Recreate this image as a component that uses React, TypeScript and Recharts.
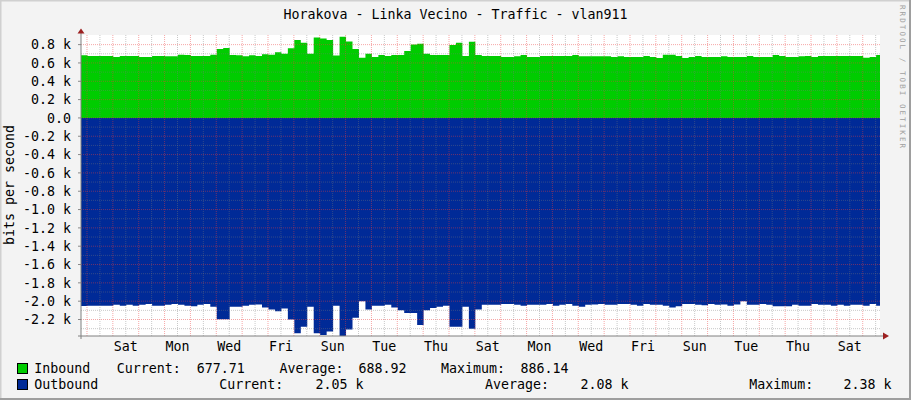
import React from "react";
import { ComposedChart, Area, XAxis, YAxis, ReferenceLine, CartesianGrid } from "recharts";

// one sample every 6 hours (0.25 day), bits per second
const STEP_DAYS = 0.25;
const END_DAY = 30.9;
const FIRST_MIDNIGHT = 0.232;

const inbound = [
  685, 677, 677, 677, 677, 665, 677, 677, 677, 665,
  665, 677, 677, 672, 672, 690, 688, 677, 677, 677,
  690, 753, 764, 688, 684, 672, 684, 677, 695, 690,
  717, 700, 760, 850, 820, 700, 877, 866, 850, 680,
  886, 833, 753, 658, 700, 665, 688, 677, 688, 688,
  730, 800, 810, 700, 688, 688, 688, 797, 820, 677,
  830, 688, 677, 677, 677, 665, 665, 672, 688, 665,
  665, 677, 677, 677, 677, 677, 688, 672, 672, 672,
  672, 672, 665, 672, 665, 665, 665, 677, 665, 655,
  690, 690, 677, 655, 665, 677, 665, 665, 665, 672,
  665, 665, 665, 677, 665, 665, 665, 688, 677, 665,
  665, 672, 677, 665, 677, 677, 677, 677, 677, 677,
  677, 658, 665, 688,
];

const outbound = [
  2052, 2050, 2050, 2050, 2050, 2040, 2050, 2040, 2050, 2040,
  2030, 2050, 2050, 2040, 2030, 2040, 2050, 2055, 2040, 2030,
  2060, 2197, 2197, 2060, 2060, 2050, 2040, 2035, 2070, 2090,
  2110, 2080, 2200, 2350, 2280, 2060, 2350, 2370, 2330, 2050,
  2380, 2310, 2180, 2000, 2090, 2050, 2050, 2040, 2070, 2100,
  2130, 2130, 2260, 2100, 2075, 2060, 2050, 2280, 2280, 2060,
  2300, 2090, 2040, 2040, 2040, 2030, 2030, 2040, 2050, 2040,
  2040, 2040, 2030, 2050, 2040, 2030, 2050, 2060, 2040, 2035,
  2030, 2040, 2040, 2030, 2030, 2040, 2050, 2030, 2040, 2040,
  2050, 2070, 2055, 2030, 2030, 2040, 2045, 2030, 2040, 2035,
  2050, 2035, 2000, 2040, 2040, 2030, 2040, 2055, 2055, 2055,
  2040, 2050, 2050, 2030, 2040, 2040, 2050, 2040, 2050, 2040,
  2040, 2050, 2030, 2050,
];

const dayLabels = ["Sat", "Mon", "Wed", "Fri", "Sun", "Tue", "Thu", "Sat", "Mon", "Wed", "Fri", "Sun", "Tue", "Thu", "Sat"];
const yTicks = [-2200, -2000, -1800, -1600, -1400, -1200, -1000, -800, -600, -400, -200, 0, 200, 400, 600, 800];
const inStats = ["677.71", "688.92", "886.14"];
const outStats = ["2.05 k", "2.08 k", "2.38 k"];

const FONT = "'DejaVu Sans Mono', monospace";
const FS = 13.3;
const GREEN = "#00CC00";
const BLUE = "#002A97";

const data = inbound.map((v, i) => ({ t: i * STEP_DAYS, inb: v, outb: -outbound[i] }));
data.push({ t: END_DAY, inb: inbound[inbound.length - 1], outb: -outbound[outbound.length - 1] });

const labelTicks = dayLabels.map((_, i) => FIRST_MIDNIGHT + 1.5 + 2 * i);
const hGrid: number[] = [];
for (let v = -2300; v <= 800; v += 100) hGrid.push(v);
const vGrid: number[] = [];
for (let k = 0; FIRST_MIDNIGHT + k * 0.5 < END_DAY; k++) vGrid.push(FIRST_MIDNIGHT + k * 0.5);

const fmtY = (v: number) => (v === 0 ? "0.0" : (v / 1000).toFixed(1) + " k");

export default function App() {
  const txt = { fontFamily: FONT, fontSize: FS, fill: "#000" };
  return (
    <div style={{ position: "absolute", left: 0, top: 0, width: 911, height: 400, background: "#F3F3F3" }}>
      <ComposedChart width={911} height={400} data={data} margin={{ top: 35, right: 31, bottom: 0, left: 0 }}>
        <CartesianGrid fill="#FFFFFF" horizontal={false} vertical={false} />
        <XAxis
          dataKey="t"
          type="number"
          domain={[0, END_DAY]}
          allowDataOverflow
          ticks={labelTicks}
          interval={0}
          tickFormatter={(_v: number, i: number) => dayLabels[i]}
          height={64}
          axisLine={false}
          tickLine={false}
          tickSize={0}
          tickMargin={6}
          tick={txt}
        />
        <YAxis
          type="number"
          domain={[-2380, 905]}
          allowDataOverflow
          ticks={yTicks}
          interval={0}
          tickFormatter={fmtY}
          width={81}
          axisLine={false}
          tickLine={{ stroke: "#888" }}
          tickSize={3}
          tickMargin={7}
          tick={txt}
        />
        <Area dataKey="inb" type="stepAfter" baseValue={0} fill={GREEN} fillOpacity={1} stroke="none" isAnimationActive={false} dot={false} activeDot={false} />
        <Area dataKey="outb" type="stepAfter" baseValue={0} fill={BLUE} fillOpacity={1} stroke="none" isAnimationActive={false} dot={false} activeDot={false} />
        {hGrid.map((v) => (
          <ReferenceLine
            key={"h" + v}
            y={v}
            stroke={v % 200 === 0 ? "rgba(235,60,60,0.45)" : "rgba(120,120,120,0.4)"}
            strokeDasharray="1 1"
          />
        ))}
        {vGrid.map((d, k) => (
          <ReferenceLine
            key={"v" + k}
            x={d}
            stroke={k % 2 === 0 ? "rgba(235,60,60,0.45)" : "rgba(120,120,120,0.4)"}
            strokeDasharray="1 1"
          />
        ))}
      </ComposedChart>
      <svg width={911} height={400} style={{ position: "absolute", left: 0, top: 0, pointerEvents: "none" }}>
        <line x1={0} y1={0.5} x2={911} y2={0.5} stroke="#D0D0D0" strokeWidth={2} />
        <line x1={0.5} y1={0} x2={0.5} y2={400} stroke="#D0D0D0" strokeWidth={2} />
        <line x1={0} y1={399} x2={911} y2={399} stroke="#9E9E9E" strokeWidth={2} />
        <line x1={910} y1={0} x2={910} y2={400} stroke="#9E9E9E" strokeWidth={2} />
        <text x={455.5} y={19.3} textAnchor="middle" {...txt}>Horakova - Linka Vecino - Traffic - vlan911</text>
        <text transform="translate(14,185) rotate(-90)" textAnchor="middle" {...txt}>bits per second</text>
        <text transform="translate(900,5) rotate(90)" fontFamily={FONT} fontSize={7.5} fill="#A0A0A0" textLength={143}>RRDTOOL / TOBI OETIKER</text>
        <line x1={81} y1={339} x2={81} y2={31} stroke="#808080" />
        <polygon points="77.5,33.5 84.5,33.5 81,28.5" fill="#9C2020" />
        <line x1={78} y1={336} x2={885} y2={336} stroke="#808080" />
        <polygon points="883,332.5 883,339.5 889,336" fill="#9C2020" />
        <rect x={17.5} y={363.5} width={10} height={10} fill={GREEN} stroke="#000" />
        <rect x={17.5} y={379.5} width={10} height={10} fill={BLUE} stroke="#000" />
        <text x={34.3} y={373} {...txt}>Inbound</text>
        <text x={116.7} y={373} {...txt}>Current:</text>
        <text x={196.7} y={373} {...txt}>{inStats[0]}</text>
        <text x={279.5} y={373} {...txt}>Average:</text>
        <text x={358.5} y={373} {...txt}>{inStats[1]}</text>
        <text x={441} y={373} {...txt}>Maximum:</text>
        <text x={520.6} y={373} {...txt}>{inStats[2]}</text>
        <text x={34.3} y={389} {...txt}>Outbound</text>
        <text x={219.3} y={389} {...txt}>Current:</text>
        <text x={315.6} y={389} {...txt}>{outStats[0]}</text>
        <text x={485} y={389} {...txt}>Average:</text>
        <text x={580.6} y={389} {...txt}>{outStats[1]}</text>
        <text x={749.3} y={389} {...txt}>Maximum:</text>
        <text x={843.6} y={389} {...txt}>{outStats[2]}</text>
      </svg>
    </div>
  );
}
